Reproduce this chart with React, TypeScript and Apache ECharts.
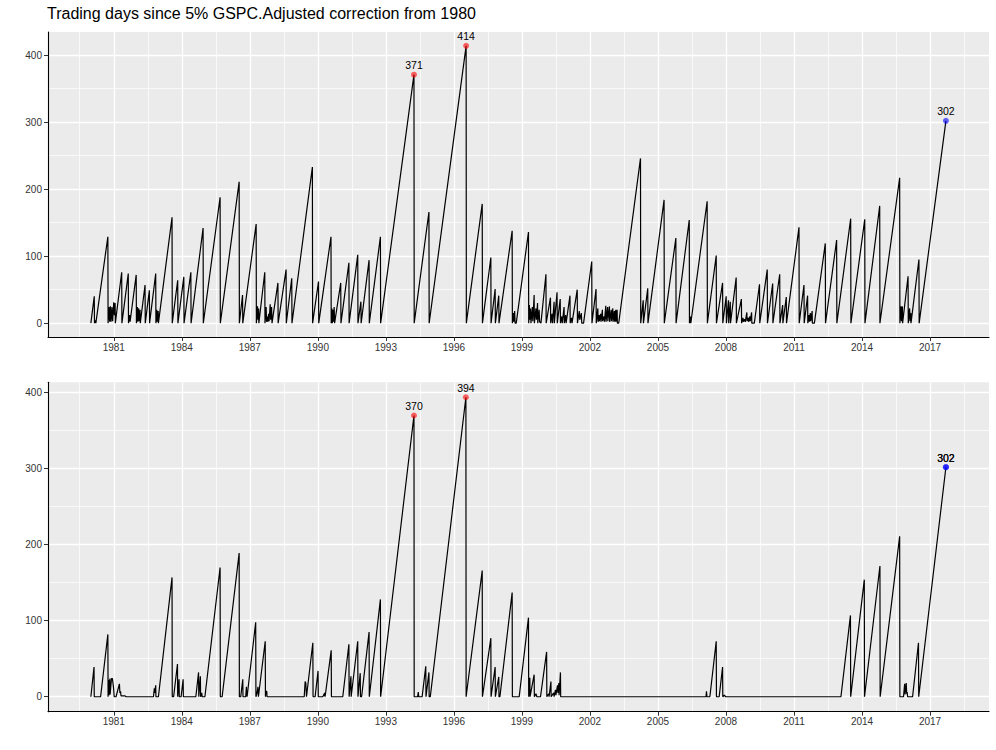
import React, { useEffect, useRef } from "react";
import * as echarts from "echarts";

const titleText = "Trading days since 5% GSPC.Adjusted correction from 1980";

const xTicks = [1981, 1984, 1987, 1990, 1993, 1996, 1999, 2002, 2005, 2008, 2011, 2014, 2017];
const xMinorTicks = [1979.5, 1982.5, 1985.5, 1988.5, 1991.5, 1994.5, 1997.5, 2000.5, 2003.5, 2006.5, 2009.5, 2012.5, 2015.5, 2018.5];
const yTicks = [0, 100, 200, 300, 400];
const yMinorTicks = [50, 150, 250, 350];

// Top panel: [year, trading days]
const topDays: [number, number][] = [
  [1979.99, 0], [1980.14, 40], [1980.15, 0], [1980.19, 4], [1980.21, 0], [1980.74, 129], [1980.75, 0],
  [1980.79, 24], [1980.82, 2], [1980.85, 25], [1980.88, 2], [1980.92, 24], [1980.95, 3], [1981.0, 31],
  [1981.03, 12], [1981.06, 30], [1981.07, 0], [1981.35, 76], [1981.36, 0], [1981.64, 74], [1981.65, 0],
  [1981.7, 12], [1981.72, 2], [1981.99, 72], [1982.0, 0], [1982.04, 24], [1982.06, 2], [1982.1, 22],
  [1982.12, 3], [1982.16, 20], [1982.17, 0], [1982.38, 57], [1982.39, 0], [1982.57, 49], [1982.58, 0],
  [1982.85, 74], [1982.86, 0], [1982.9, 20], [1982.92, 2], [1982.96, 18], [1982.97, 0], [1983.57, 158],
  [1983.58, 0], [1983.82, 64], [1983.83, 0], [1984.09, 69], [1984.1, 0], [1984.4, 76], [1984.41, 0],
  [1984.94, 142], [1984.95, 0], [1985.69, 188], [1985.7, 0], [1986.53, 211], [1986.54, 0], [1986.68, 42],
  [1986.69, 0], [1987.28, 148], [1987.29, 0], [1987.34, 25], [1987.36, 5], [1987.39, 22], [1987.4, 0],
  [1987.66, 76], [1987.67, 0], [1987.72, 24], [1987.74, 2], [1987.78, 10], [1987.8, 2], [1987.83, 14],
  [1987.85, 3], [1987.9, 28], [1987.92, 5], [1987.96, 24], [1987.98, 0], [1988.24, 60], [1988.25, 0],
  [1988.28, 0], [1988.6, 80], [1988.61, 0], [1988.85, 67], [1988.86, 0], [1989.76, 233], [1989.77, 0],
  [1990.03, 62], [1990.04, 0], [1990.07, 0], [1990.58, 129], [1990.59, 0], [1990.62, 22], [1990.64, 0],
  [1990.67, 20], [1990.69, 2], [1990.72, 24], [1990.74, 0], [1990.77, 0], [1991.01, 60], [1991.02, 0],
  [1991.37, 90], [1991.38, 0], [1991.76, 102], [1991.77, 0], [1991.9, 32], [1991.91, 0], [1992.26, 94],
  [1992.27, 0], [1992.76, 129], [1992.77, 0], [1994.24, 371], [1994.25, 0], [1994.9, 166], [1994.91, 0],
  [1996.54, 414], [1996.55, 0], [1997.25, 178], [1997.26, 0], [1997.63, 98], [1997.64, 0], [1997.82, 51],
  [1997.83, 0], [1997.98, 41], [1997.99, 0], [1998.57, 138], [1998.58, 0], [1998.62, 15], [1998.64, 2],
  [1998.68, 18], [1998.7, 0], [1998.75, 0], [1999.29, 136], [1999.3, 0], [1999.33, 27], [1999.35, 5],
  [1999.38, 22], [1999.4, 0], [1999.46, 24], [1999.48, 3], [1999.54, 42], [1999.55, 0], [1999.62, 22],
  [1999.64, 5], [1999.69, 30], [1999.7, 0], [1999.76, 20], [1999.78, 2], [1999.84, 0], [2000.06, 73],
  [2000.07, 0], [2000.26, 38], [2000.27, 0], [2000.33, 14], [2000.35, 0], [2000.42, 32], [2000.43, 0],
  [2000.55, 46], [2000.56, 0], [2000.69, 36], [2000.7, 0], [2000.76, 10], [2000.78, 0], [2000.86, 24],
  [2000.87, 0], [2000.93, 12], [2000.95, 0], [2001.12, 41], [2001.13, 0], [2001.19, 8], [2001.21, 0],
  [2001.44, 50], [2001.45, 0], [2001.53, 18], [2001.55, 5], [2001.62, 15], [2001.64, 0], [2001.72, 0],
  [2002.08, 92], [2002.09, 0], [2002.27, 51], [2002.28, 0], [2002.35, 22], [2002.36, 2], [2002.4, 12],
  [2002.42, 3], [2002.47, 14], [2002.49, 2], [2002.55, 20], [2002.56, 3], [2002.62, 10], [2002.64, 2],
  [2002.7, 26], [2002.71, 2], [2002.78, 24], [2002.79, 3], [2002.86, 25], [2002.87, 2], [2002.94, 20],
  [2002.95, 3], [2003.01, 22], [2003.02, 2], [2003.08, 18], [2003.09, 2], [2003.14, 20], [2003.15, 2],
  [2003.2, 20], [2003.21, 0], [2003.27, 0], [2004.23, 246], [2004.24, 0], [2004.35, 34], [2004.36, 0],
  [2004.55, 52], [2004.56, 0], [2005.27, 184], [2005.28, 0], [2005.79, 127], [2005.8, 0], [2006.38, 154],
  [2006.39, 0], [2006.43, 10], [2006.45, 0], [2007.17, 182], [2007.18, 0], [2007.57, 101], [2007.58, 0],
  [2007.85, 60], [2007.86, 0], [2008.01, 40], [2008.02, 0], [2008.11, 34], [2008.12, 0], [2008.19, 32],
  [2008.2, 0], [2008.45, 68], [2008.46, 0], [2008.68, 36], [2008.69, 0], [2008.75, 8], [2008.77, 2],
  [2008.82, 6], [2008.85, 2], [2008.92, 16], [2008.93, 3], [2008.98, 8], [2009.0, 2], [2009.05, 10],
  [2009.07, 3], [2009.13, 16], [2009.14, 0], [2009.25, 0], [2009.48, 58], [2009.49, 0], [2009.82, 80],
  [2009.83, 0], [2010.06, 59], [2010.07, 0], [2010.37, 73], [2010.38, 0], [2010.5, 27], [2010.51, 0],
  [2010.66, 39], [2010.67, 0], [2011.22, 143], [2011.23, 0], [2011.44, 57], [2011.45, 0], [2011.6, 41],
  [2011.61, 0], [2011.66, 12], [2011.68, 2], [2011.72, 15], [2011.74, 3], [2011.8, 18], [2011.81, 0],
  [2011.9, 0], [2012.38, 119], [2012.39, 0], [2012.88, 124], [2012.89, 0], [2013.5, 156], [2013.51, 0],
  [2014.12, 155], [2014.13, 0], [2014.78, 175], [2014.79, 0], [2015.66, 217], [2015.67, 0], [2015.72, 25],
  [2015.74, 3], [2015.78, 25], [2015.79, 0], [2016.03, 70], [2016.04, 0], [2016.1, 22], [2016.12, 3],
  [2016.15, 15], [2016.16, 0], [2016.51, 95], [2016.52, 0], [2017.7, 302],
];
const topPeaks: [number, number][] = [[1994.24, 371], [1996.54, 414]];
const topCurrent: [number, number][] = [[2017.7, 302]];

// Bottom panel: [year, trading days]
const bottomDays: [number, number][] = [
  [1979.99, 0], [1980.13, 39], [1980.14, 0], [1980.42, 0], [1980.74, 82], [1980.75, 0], [1980.78, 22],
  [1980.79, 2], [1980.83, 24], [1980.84, 3], [1980.9, 24], [1980.94, 24], [1980.99, 12], [1981.02, 0],
  [1981.1, 0], [1981.25, 17], [1981.27, 5], [1981.3, 7], [1981.32, 1], [1981.5, 1], [1981.55, 0],
  [1982.75, 0], [1982.79, 11], [1982.81, 5], [1982.85, 15], [1982.86, 0], [1982.97, 0], [1983.57, 157],
  [1983.58, 0], [1983.64, 0], [1983.81, 43], [1983.82, 0], [1983.88, 23], [1983.89, 0], [1983.97, 0],
  [1984.06, 23], [1984.07, 0], [1984.62, 0], [1984.74, 32], [1984.75, 0], [1984.82, 27], [1984.83, 0],
  [1984.88, 5], [1984.9, 0], [1985.02, 0], [1985.69, 170], [1985.7, 0], [1985.78, 0], [1986.53, 189],
  [1986.54, 0], [1986.6, 0], [1986.69, 23], [1986.7, 0], [1986.82, 0], [1986.85, 13], [1986.86, 5],
  [1986.88, 0], [1987.26, 98], [1987.27, 0], [1987.32, 5], [1987.36, 13], [1987.38, 0], [1987.68, 73],
  [1987.69, 0], [1987.71, 7], [1987.75, 7], [1987.76, 0], [1989.4, 0], [1989.44, 20], [1989.47, 18],
  [1989.5, 0], [1989.78, 71], [1989.79, 0], [1989.88, 0], [1990.01, 34], [1990.02, 0], [1990.22, 0],
  [1990.3, 5], [1990.32, 0], [1990.35, 0], [1990.59, 61], [1990.6, 0], [1991.1, 0], [1991.37, 69],
  [1991.38, 0], [1991.46, 27], [1991.47, 0], [1991.76, 73], [1991.77, 0], [1991.87, 31], [1991.88, 0],
  [1991.93, 0], [1992.26, 85], [1992.27, 0], [1992.76, 128], [1992.77, 0], [1994.24, 370], [1994.25, 0],
  [1994.4, 0], [1994.43, 6], [1994.45, 0], [1994.6, 0], [1994.76, 40], [1994.77, 0], [1994.9, 32],
  [1994.91, 0], [1994.96, 0], [1996.53, 394], [1996.54, 0], [1997.25, 166], [1997.26, 0], [1997.63, 77],
  [1997.64, 0], [1997.82, 39], [1997.83, 0], [1997.98, 26], [1997.99, 0], [1998.03, 0], [1998.57, 137],
  [1998.58, 0], [1998.88, 0], [1999.29, 104], [1999.3, 0], [1999.35, 25], [1999.36, 0], [1999.54, 29],
  [1999.55, 0], [1999.62, 4], [1999.66, 0], [1999.82, 0], [2000.09, 59], [2000.1, 0], [2000.18, 4],
  [2000.2, 0], [2000.28, 20], [2000.29, 0], [2000.4, 5], [2000.42, 0], [2000.48, 9], [2000.5, 2],
  [2000.57, 15], [2000.59, 5], [2000.63, 18], [2000.64, 2], [2000.7, 32], [2000.71, 0], [2007.12, 0],
  [2007.14, 7], [2007.16, 0], [2007.29, 0], [2007.57, 73], [2007.58, 0], [2007.7, 0], [2007.85, 39],
  [2007.86, 0], [2007.93, 2], [2007.98, 0], [2013.07, 0], [2013.49, 107], [2013.5, 0], [2014.1, 154],
  [2014.11, 0], [2014.79, 172], [2014.8, 0], [2015.66, 211], [2015.67, 0], [2015.83, 0], [2015.88, 17],
  [2015.9, 3], [2015.95, 18], [2015.97, 4], [2015.99, 6], [2016.01, 0], [2016.23, 0], [2016.49, 71],
  [2016.5, 0], [2017.7, 302],
];
const bottomPeaks: [number, number][] = [[1994.24, 370], [1996.53, 394]];
const bottomCurrent: [number, number][] = [[2017.7, 302], [2017.7, 302]];

const FONT = "'Liberation Sans', Arial, Helvetica, sans-serif";
const X_MIN = 1978.1;
const X_MAX = 2019.6;
const plainNumber = (v: number) => String(v);

function makeAxes(gridIndex: number, yMin: number, yMax: number) {
  const xMajor = {
    type: "value",
    gridIndex,
    min: X_MIN,
    max: X_MAX,
    position: "bottom",
    axisLine: { show: true, onZero: false, lineStyle: { color: "#000", width: 1.1 } },
    axisTick: { show: true, customValues: xTicks, length: 4, lineStyle: { color: "#333", width: 1 } },
    axisLabel: {
      show: true,
      customValues: xTicks,
      fontSize: 10,
      color: "#333333",
      margin: 5,
      fontFamily: FONT,
      formatter: plainNumber,
    },
    splitLine: { show: true, lineStyle: { color: "#FFFFFF", width: 1.3 } },
  };
  const xMinor = {
    type: "value",
    gridIndex,
    min: X_MIN,
    max: X_MAX,
    position: "bottom",
    axisLine: { show: false, onZero: false },
    axisTick: { show: false, customValues: xMinorTicks },
    axisLabel: { show: false, customValues: xMinorTicks },
    splitLine: { show: true, lineStyle: { color: "#FFFFFF", width: 0.7 } },
  };
  const yMajor = {
    type: "value",
    gridIndex,
    min: yMin,
    max: yMax,
    position: "left",
    axisLine: { show: true, onZero: false, lineStyle: { color: "#000", width: 1.1 } },
    axisTick: { show: true, customValues: yTicks, length: 4, lineStyle: { color: "#333", width: 1 } },
    axisLabel: {
      show: true,
      customValues: yTicks,
      fontSize: 10,
      color: "#333333",
      margin: 6,
      fontFamily: FONT,
      formatter: plainNumber,
    },
    splitLine: { show: true, lineStyle: { color: "#FFFFFF", width: 1.3 } },
  };
  const yMinor = {
    type: "value",
    gridIndex,
    min: yMin,
    max: yMax,
    position: "left",
    axisLine: { show: false, onZero: false },
    axisTick: { show: false, customValues: yMinorTicks },
    axisLabel: { show: false, customValues: yMinorTicks },
    splitLine: { show: true, lineStyle: { color: "#FFFFFF", width: 0.7 } },
  };
  return { xMajor, xMinor, yMajor, yMinor };
}

function pointSeries(data: [number, number][], color: string, xAxisIndex: number, yAxisIndex: number) {
  return {
    type: "scatter",
    xAxisIndex,
    yAxisIndex,
    data,
    symbolSize: 6,
    z: 5,
    itemStyle: { color, opacity: 1 },
    label: {
      show: true,
      position: "top",
      distance: 1,
      fontSize: 10.5,
      color: "#000",
      fontFamily: FONT,
      formatter: (p: any) => String(p.value[1]),
    },
  };
}

export default function App() {
  const ref = useRef<HTMLDivElement>(null);

  useEffect(() => {
    if (!ref.current) return;
    const chart = echarts.init(ref.current, undefined, { renderer: "svg" });
    const a = makeAxes(0, -20.7, 434.7);
    const b = makeAxes(1, -19.7, 413.7);
    const option: any = {
      animation: false,
      textStyle: { fontFamily: FONT },
      title: {
        text: titleText,
        left: 47,
        top: 5,
        padding: 0,
        textStyle: { fontSize: 16, fontWeight: "normal", color: "#000", fontFamily: FONT },
      },
      grid: [
        { left: 48, top: 32, width: 941, height: 305, show: true, backgroundColor: "#EBEBEB", borderWidth: 0, containLabel: false },
        { left: 48, top: 382.3, width: 941, height: 329.4, show: true, backgroundColor: "#EBEBEB", borderWidth: 0, containLabel: false },
      ],
      xAxis: [a.xMajor, a.xMinor, b.xMajor, b.xMinor],
      yAxis: [a.yMajor, a.yMinor, b.yMajor, b.yMinor],
      series: [
        {
          type: "line",
          xAxisIndex: 0,
          yAxisIndex: 0,
          data: topDays,
          showSymbol: false,
          symbol: "none",
          z: 3,
          lineStyle: { color: "#000", width: 1.2 },
        },
        pointSeries(topPeaks, "rgba(255,0,0,0.6)", 0, 0),
        pointSeries(topCurrent, "rgba(0,0,255,0.6)", 0, 0),
        {
          type: "line",
          xAxisIndex: 2,
          yAxisIndex: 2,
          data: bottomDays,
          showSymbol: false,
          symbol: "none",
          z: 3,
          lineStyle: { color: "#000", width: 1.2 },
        },
        pointSeries(bottomPeaks, "rgba(255,0,0,0.6)", 2, 2),
        pointSeries(bottomCurrent, "rgba(0,0,255,0.6)", 2, 2),
      ],
    };
    chart.setOption(option);
    return () => chart.dispose();
  }, []);

  return (
    <div
      ref={ref}
      style={{ position: "absolute", left: 0, top: 0, width: 996, height: 750, background: "#fff" }}
    />
  );
}
